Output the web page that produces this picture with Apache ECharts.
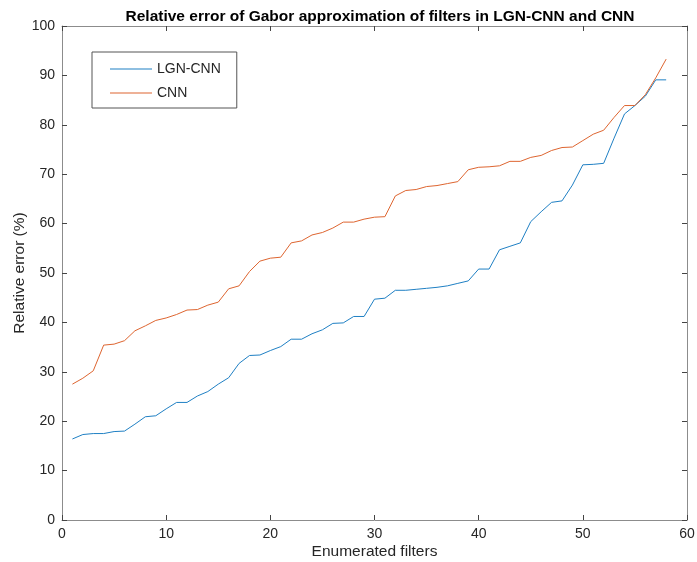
<!DOCTYPE html>
<html>
<head>
<meta charset="utf-8">
<script src="https://cdn.jsdelivr.net/npm/echarts@6/dist/echarts.min.js"></script>
<style>
    html, body { margin: 0; padding: 0; background: #fff; }
    #chart { width: 697px; height: 562px; }
</style>
</head>
<body>
<div id="chart"></div>
<script>
    // enumerated filter index
    var filters = [1, 2, 3, 4, 5, 6, 7, 8, 9, 10, 11, 12, 13, 14, 15, 16, 17, 18, 19, 20,
        21, 22, 23, 24, 25, 26, 27, 28, 29, 30, 31, 32, 33, 34, 35, 36, 37, 38, 39, 40,
        41, 42, 43, 44, 45, 46, 47, 48, 49, 50, 51, 52, 53, 54, 55, 56, 57, 58];

    var lgnCnn = [16.4, 17.3, 17.5, 17.5, 17.9, 18.0, 19.4, 20.9, 21.1, 22.5,
        23.8, 23.8, 25.1, 26.0, 27.5, 28.8, 31.7, 33.3, 33.4, 34.3,
        35.1, 36.6, 36.6, 37.7, 38.5, 39.8, 39.9, 41.2, 41.2, 44.7,
        44.9, 46.5, 46.5, 46.7, 46.9, 47.1, 47.4, 47.9, 48.4, 50.8,
        50.8, 54.7, 55.4, 56.1, 60.4, 62.4, 64.3, 64.6, 67.8, 71.9,
        72.0, 72.2, 77.3, 82.2, 83.9, 85.8, 89.1, 89.1];

    var cnn = [27.5, 28.7, 30.2, 35.4, 35.6, 36.3, 38.3, 39.3, 40.4, 40.9,
        41.6, 42.5, 42.6, 43.5, 44.1, 46.8, 47.4, 50.3, 52.4, 53.0,
        53.2, 56.1, 56.5, 57.7, 58.2, 59.1, 60.3, 60.3, 60.9, 61.3,
        61.4, 65.6, 66.7, 66.9, 67.5, 67.7, 68.1, 68.5, 70.9, 71.4,
        71.5, 71.7, 72.6, 72.6, 73.4, 73.8, 74.8, 75.4, 75.5, 76.8,
        78.1, 78.9, 81.5, 83.9, 83.9, 86.1, 89.5, 93.3];

    var xTicks = { min: 0, max: 60, step: 10 };
    var yTicks = { min: 0, max: 100, step: 10 };

    function pairs(ys) {
        return filters.map(function (x, i) { return [x, ys[i]]; });
    }

    var font = 'Liberation Sans, Arial, Helvetica, sans-serif';
    var axisGray = '#8c8c8c';
    var labelColor = '#262626';

    function valueAxis(range, pos, withLabels, extra) {
        var ax = {
            type: 'value',
            position: pos,
            min: range.min,
            max: range.max,
            interval: range.step,
            splitLine: { show: false },
            axisLine: { show: true, onZero: false, lineStyle: { color: axisGray, width: 1 } },
            axisTick: { show: true, inside: true, length: 5, lineStyle: { color: '#444', width: 1 } },
            axisLabel: {
                show: withLabels,
                color: labelColor,
                fontFamily: font,
                fontSize: 14,
                margin: 7
            }
        };
        return Object.assign(ax, extra || {});
    }

    var chart = echarts.init(document.getElementById('chart'));
    var option = {
        animation: false,
        backgroundColor: '#fff',
        title: {
            text: 'Relative error of Gabor approximation of filters in LGN-CNN and CNN',
            left: 375,
            textAlign: 'center',
            top: 4,
            textStyle: { fontFamily: font, fontSize: 15.5, fontWeight: 'bold', color: '#000' }
        },
        legend: {
            orient: 'vertical',
            left: 92,
            top: 52,
            padding: [10, 16, 8, 18],
            itemGap: 10,
            itemWidth: 42,
            itemHeight: 1,
            icon: 'rect',
            borderColor: '#555',
            borderWidth: 1,
            backgroundColor: '#fff',
            textStyle: { fontFamily: font, fontSize: 14, color: labelColor, lineHeight: 14 },
            data: ['LGN-CNN', 'CNN']
        },
        grid: { left: 62, right: 10, top: 26, bottom: 42, containLabel: false, outerBoundsMode: 'none' },
        xAxis: [
            valueAxis(xTicks, 'bottom', true, {
                name: 'Enumerated filters',
                nameLocation: 'middle',
                nameGap: 24,
                nameMoveOverlap: false,
                nameTextStyle: { fontFamily: font, fontSize: 15.5, color: labelColor }
            }),
            valueAxis(xTicks, 'top', false)
        ],
        yAxis: [
            valueAxis(yTicks, 'left', true, {
                name: 'Relative error (%)',
                nameLocation: 'middle',
                nameGap: 34,
                nameMoveOverlap: false,
                nameTextStyle: { fontFamily: font, fontSize: 15.5, color: labelColor }
            }),
            valueAxis(yTicks, 'right', false)
        ],
        series: [
            {
                name: 'LGN-CNN',
                type: 'line',
                showSymbol: false,
                color: '#1f80c4',
                lineStyle: { width: 1, color: '#1f80c4' },
                data: pairs(lgnCnn)
            },
            {
                name: 'CNN',
                type: 'line',
                showSymbol: false,
                color: '#de6530',
                lineStyle: { width: 1, color: '#de6530' },
                data: pairs(cnn)
            }
        ]
    };
    chart.setOption(option);
</script>
</body>
</html>
